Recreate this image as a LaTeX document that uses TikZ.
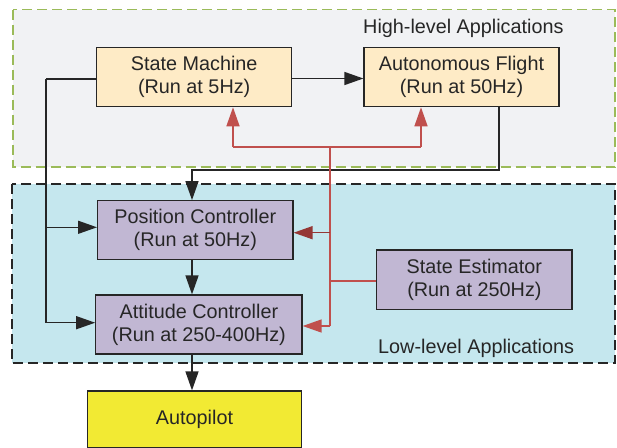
\documentclass[tikz,border=0pt]{standalone}
\usepackage{fontspec}
\setmainfont{Liberation Sans}
\usetikzlibrary{arrows.meta}
\definecolor{hlfill}{HTML}{F1F2F4}
\definecolor{hlgreen}{HTML}{9BBB59}
\definecolor{llfill}{HTML}{C5E7EE}
\definecolor{appfill}{HTML}{FEEBC6}
\definecolor{ctrlfill}{HTML}{C1B7D3}
\definecolor{apfill}{HTML}{F2EA33}
\definecolor{linkred}{HTML}{C0504D}
\definecolor{darkred}{HTML}{953735}
\definecolor{ink}{HTML}{262626}

\begin{document}
\begin{tikzpicture}[x=1pt,y=-1pt,
  box/.style={draw=ink, line width=1.2pt, rectangle, inner sep=0pt,
    align=center, text=ink, font=\fontsize{19.8}{23}\selectfont},
  region/.style={line width=1.5pt, dash pattern=on 10pt off 5pt},
  caption/.style={text=ink, inner sep=0pt, font=\fontsize{19.8}{23}\selectfont},
  flow/.style={draw=ink, line width=1.4pt, -{Triangle[length=19pt,width=13pt]}},
  wire/.style={draw=ink, line width=1.4pt},
  feed/.style={draw=linkred, line width=1.5pt},
  feedarrow/.style={feed, -{Triangle[length=19pt,width=13pt]}}
]
\useasboundingbox (0,0) rectangle (617,447);

% application layers
\draw[region, fill=hlfill, draw=hlgreen] (13,9.5) rectangle (615,167);
\draw[region, fill=llfill, draw=ink] (12,184) rectangle (615,363);
\node[caption, anchor=base west] (hltitle) at (363,33) {High-level Applications};
\node[caption, anchor=base west] (lltitle) at (378,353) {Low-level Applications};

% modules
\node[box, fill=appfill, minimum width=195pt, minimum height=59.4pt] (sm) at (194.2,77) {State Machine\\(Run at 5Hz)};
\node[box, fill=appfill, minimum width=195pt, minimum height=59.4pt] (af) at (461.5,77) {Autonomous Flight\\(Run at 50Hz)};
\node[box, fill=ctrlfill, minimum width=195.4pt, minimum height=58.6pt] (pc) at (195.3,230) {Position Controller\\(Run at 50Hz)};
\node[box, fill=ctrlfill, minimum width=206.3pt, minimum height=59pt] (ac) at (198.9,324.5) {Attitude Controller\\(Run at 250-400Hz)};
\node[box, fill=ctrlfill, minimum width=195.2pt, minimum height=59.3pt] (se) at (474.4,279.6) {State Estimator\\(Run at 250Hz)};
\node[box, fill=apfill, minimum width=214.4pt, minimum height=57pt] (ap) at (194.5,419.5) {Autopilot};

% routing points
\coordinate (col) at (192,0);
\coordinate (lbus) at (46,79);
\coordinate (jog) at (300,170);
\coordinate (rtop) at (330,147);
\coordinate (rl) at (233,147);
\coordinate (rr) at (421,147);

% control flow
\draw[flow] ([yshift=-1.5pt]sm.east) -- ([yshift=-1.5pt]af.west);
\draw[wire] ([yshift=-2pt]sm.west) -- (lbus);
\draw[flow] (lbus) |- ([yshift=1.8pt]ac.west);
\draw[flow] ([yshift=2.7pt]lbus |- pc.west) -- ([yshift=2.7pt]pc.west);
\draw[flow] ([xshift=37.5pt]af.south) |- (jog) -| (pc.north -| col);
\draw[flow] (pc.south -| col) -- (ac.north -| col);
\draw[flow] (ac.south -| col) -- (ap.north -| col);

% state feedback
\draw[feed] ([yshift=-1.3pt]se.west) -- ([yshift=-1.3pt]se.west -| rtop);
\draw[feed] (rtop) -- ([yshift=-1.5pt]rtop |- ac.east);
\draw[feed] (rl) -- (rr);
\draw[feedarrow] (rl) -- (rl |- sm.south);
\draw[feedarrow] (rr) -- (rr |- af.south);
\draw[feedarrow, draw=darkred] ([yshift=-2.7pt]pc.east -| rtop) -- ([yshift=-2.7pt]pc.east);
\draw[feedarrow] ([yshift=-1.5pt]ac.east -| rtop) -- ([yshift=-1.5pt]ac.east);
\end{tikzpicture}
\end{document}
